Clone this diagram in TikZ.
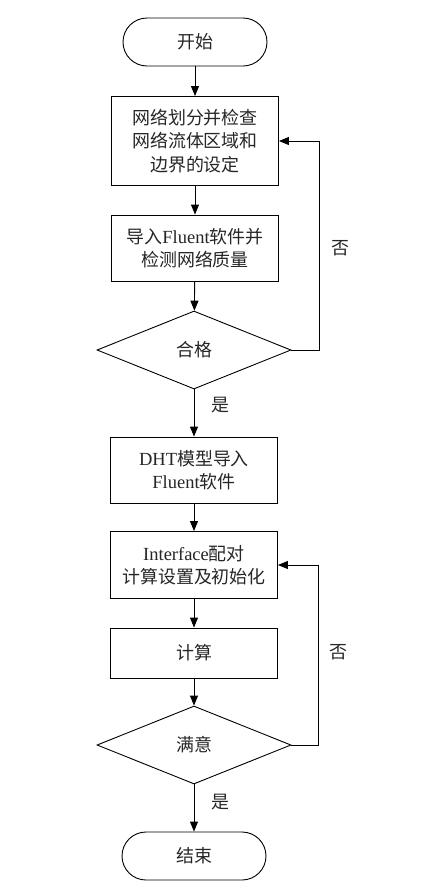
\documentclass[tikz,border=0pt]{standalone}
\usepackage{fontspec}
\setmainfont{Liberation Serif}
\newfontfamily\cjk{Noto Sans CJK SC}[Scale=0.97]
\usetikzlibrary{shapes.geometric,arrows.meta}
\tikzset{
  txt/.style={font=\fontsize{18.5}{23.5}\selectfont, align=center, text=black!85},
  box/.style={txt, draw, line width=0.9pt, minimum width=167pt, inner sep=0pt},
  term/.style={txt, draw, line width=0.9pt, minimum width=144pt, minimum height=48pt, rounded corners=24pt, inner sep=0pt},
  dec/.style={txt, draw, line width=0.9pt, shape=diamond, minimum width=194pt, minimum height=78pt, inner sep=0pt},
  arr/.style={draw, line width=0.9pt, -{Triangle[length=10pt,width=8pt]}},
  lab/.style={txt}
}
\begin{document}
\begin{tikzpicture}[x=1pt,y=-1pt]
\useasboundingbox (0,0) rectangle (428,895);
\node[term] (start) at (195,42) {\cjk 开始};
\node[box, minimum height=89pt] (b1) at (195,141) {\cjk 网络划分并检查\\\cjk 网络流体区域和\\\cjk 边界的设定};
\node[box, minimum height=66pt] (b2) at (195,248) {{\cjk 导入}Fluent{\cjk 软件并}\\\cjk 检测网络质量};
\node[dec] (d1) at (194,350) {\cjk 合格};
\node[box, minimum height=66pt] (b3) at (194,470) {DHT{\cjk 模型导入}\\Fluent{\cjk 软件}};
\node[box, minimum height=67pt] (b4) at (194,565) {Interface{\cjk 配对}\\\cjk 计算设置及初始化};
\node[box, minimum height=50pt] (b5) at (194,653) {\cjk 计算};
\node[dec] (d2) at (194,745) {\cjk 满意};
\node[term] (end) at (194,856) {\cjk 结束};
\coordinate (r1) at (319,350);
\coordinate (r2) at (318,745);
\draw[arr] (start) -- (b1);
\draw[arr] (b1) -- (b2);
\draw[arr] (b2) -- (d1);
\draw[arr] (d1) -- (b3);
\draw[arr] (b3) -- (b4);
\draw[arr] (b4) -- (b5);
\draw[arr] (b5) -- (d2);
\draw[arr] (d2) -- (end);
\draw[arr] (d1.east) -- (r1) |- (b1.east);
\draw[arr] (d2.east) -- (r2) |- (b4.east);
\node[lab] (no1) at (340,248) {\cjk 否};
\node[lab] (yes1) at (220,405) {\cjk 是};
\node[lab] (no2) at (338,652) {\cjk 否};
\node[lab] (yes2) at (220,802) {\cjk 是};
\end{tikzpicture}
\end{document}
